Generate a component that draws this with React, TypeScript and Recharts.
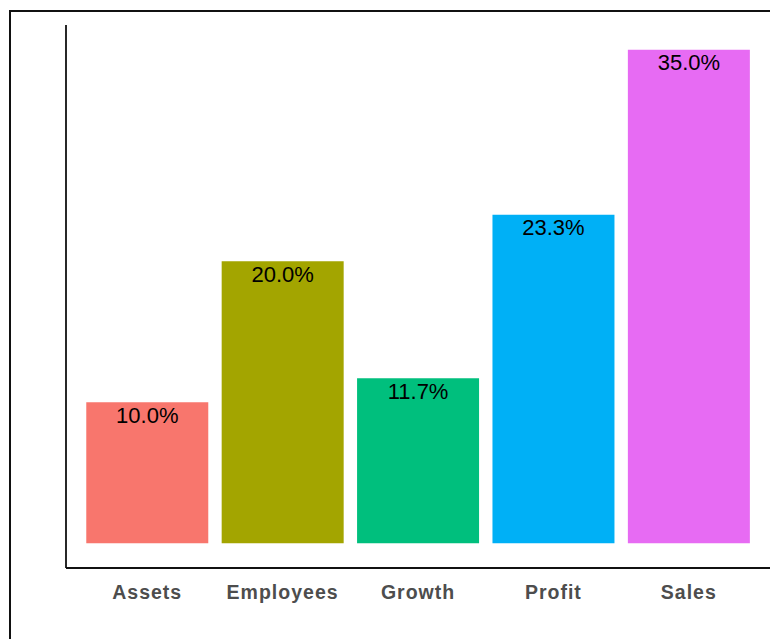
import { BarChart, Bar, XAxis, YAxis, Cell, LabelList } from "recharts";

const categories = ["Assets", "Employees", "Growth", "Profit", "Sales"];
const shares = [10.0, 20.0, 11.7, 23.3, 35.0];
const barColors = ["#F8766D", "#A3A500", "#00BF7D", "#00B0F6", "#E76BF3"];

const chartData = categories.map((name, i) => ({ name, share: shares[i] }));

const FONT = "'Liberation Sans', Arial, sans-serif";

const App = () => {
  return (
    <div
      style={{
        position: "fixed",
        left: 0,
        top: 0,
        width: 770,
        height: 639,
        overflow: "hidden",
        background: "#fff",
      }}
    >
      <div
        style={{
          position: "absolute",
          left: 9,
          top: 10,
          width: 900,
          height: 800,
          border: "2px solid #111",
          boxSizing: "border-box",
        }}
      />
      <div style={{ position: "absolute", left: 0, top: 0 }}>
        <BarChart
          width={770}
          height={639}
          data={chartData}
          margin={{ left: 65, right: 0, top: 25, bottom: 0 }}
          barCategoryGap="5%"
        >
          <XAxis
            dataKey="name"
            height={71}
            padding={{ left: 13.5, right: 13.5 }}
            tickLine={false}
            tickMargin={11}
            axisLine={{ stroke: "#111", strokeWidth: 1.8 }}
            tick={{ fill: "#4d4d4d", fontSize: 19.5, fontWeight: 700, fontFamily: FONT, letterSpacing: 1 }}
            interval={0}
          />
          <YAxis
            type="number"
            domain={[-1.75, 36.75]}
            allowDataOverflow
            width={1}
            tick={false}
            tickLine={false}
            axisLine={{ stroke: "#111", strokeWidth: 1.8 }}
          />
          <Bar dataKey="share" isAnimationActive={false}>
            {chartData.map((d, i) => (
              <Cell key={d.name} fill={barColors[i]} />
            ))}
            <LabelList
              dataKey="share"
              position="insideTop"
              offset={5}
              formatter={(v: number) => `${v.toFixed(1)}%`}
              style={{ fill: "#000", fontSize: 22, fontFamily: FONT }}
            />
          </Bar>
        </BarChart>
      </div>
    </div>
  );
};

export default App;
